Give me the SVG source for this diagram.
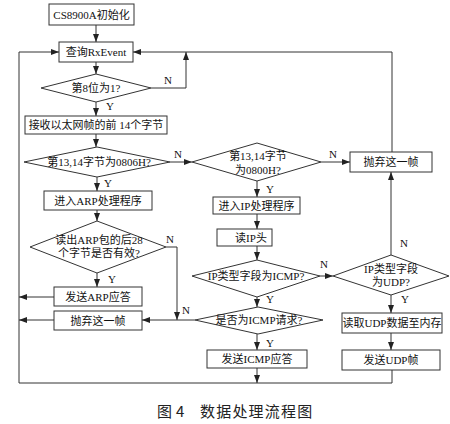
<svg xmlns="http://www.w3.org/2000/svg" width="450" height="424" viewBox="0 0 450 424">
<style>
.box{fill:#fff;stroke:#333;stroke-width:1}
.t{font-family:"Liberation Serif","Noto Sans CJK SC",serif;font-size:11px;fill:#111;text-anchor:middle}
.lb{font-family:"Liberation Serif",serif;font-size:11px;fill:#111}
.ln{fill:none;stroke:#333;stroke-width:1}
.ar{marker-end:url(#ah)}
.cap{font-family:"Noto Sans CJK SC",sans-serif;font-size:15px;fill:#222}
</style>
<defs>
<marker id="ah" markerUnits="userSpaceOnUse" markerWidth="8" markerHeight="6" refX="8" refY="3" orient="auto">
<path d="M0,0 L8,3 L0,6 z" fill="#222"/>
</marker>
</defs>
<rect width="450" height="424" fill="#fff"/>
<g id="connectors">
<path class="ln ar" d="M96,25 V42"/>
<path class="ln ar" d="M96,62 V74"/>
<path class="ln ar" d="M151,88 H186 V52"/>
<path class="ln ar" d="M392,152 V52 H133"/>
<path class="ln ar" d="M96,102 V116"/>
<path class="ln ar" d="M96,134 V147"/>
<path class="ln ar" d="M170,162 H192"/>
<path class="ln ar" d="M97,177 V191"/>
<path class="ln ar" d="M97,210 V221"/>
<path class="ln ar" d="M97,273 V287"/>
<path class="ln ar" d="M166,247 H177 V320"/>
<path class="ln ar" d="M54,297 H19"/>
<path class="ln ar" d="M54,320 H19"/>
<path class="ln ar" d="M195,320 H142"/>
<path class="ln ar" d="M392,370 V383 H19 V52 H59"/>
<path class="ln ar" d="M321,162 H350"/>
<path class="ln ar" d="M257,181 V197"/>
<path class="ln ar" d="M257,214 V229"/>
<path class="ln ar" d="M257,246 V260"/>
<path class="ln ar" d="M320,276 H333"/>
<path class="ln ar" d="M257,297 V307"/>
<path class="ln ar" d="M391,255 V172"/>
<path class="ln ar" d="M391,295 V313"/>
<path class="ln ar" d="M391,333 V350"/>
<path class="ln ar" d="M257,334 V350"/>
<path class="ln ar" d="M257,368 V383"/>
</g>
<g id="labels">
<text class="lb" x="164" y="84">N</text>
<text class="lb" x="106" y="110">Y</text>
<text class="lb" x="174" y="158">N</text>
<text class="lb" x="104" y="187">Y</text>
<text class="lb" x="329" y="158">N</text>
<text class="lb" x="266" y="193">Y</text>
<text class="lb" x="166" y="243">N</text>
<text class="lb" x="108" y="283">Y</text>
<text class="lb" x="182" y="314">N</text>
<text class="lb" x="320" y="268">N</text>
<text class="lb" x="400" y="247">N</text>
<text class="lb" x="266" y="303">Y</text>
<text class="lb" x="401" y="303">Y</text>
<text class="lb" x="266" y="347">Y</text>
</g>
<g id="n1"><rect class="box" x="49" y="4" width="85" height="21"/><text class="t" x="91.5" y="18.5">CS8900A初始化</text></g>
<g id="n2"><rect class="box" x="59" y="42" width="74" height="20"/><text class="t" x="96" y="56">查询RxEvent</text></g>
<g id="d1"><polygon class="box" points="41,88 96,74 151,88 96,102"/><text class="t" x="96" y="92">第8位为1?</text></g>
<g id="n3"><rect class="box" x="25" y="116" width="142" height="18"/><text class="t" x="96" y="129">接收以太网帧的前 14个字节</text></g>
<g id="d2"><polygon class="box" points="24,162 97,147 170,162 97,177"/><text class="t" x="99" y="166">第13,14字节为0806H?</text></g>
<g id="n4"><rect class="box" x="44" y="191" width="108" height="19"/><text class="t" x="98" y="204.5">进入ARP处理程序</text></g>
<g id="d3"><polygon class="box" points="30,247 97,221 166,247 97,273"/><text class="t" x="99" y="244">读出ARP包的后28</text><text class="t" x="99" y="257">个字节是否有效?</text></g>
<g id="n5"><rect class="box" x="54" y="287" width="88" height="19"/><text class="t" x="98" y="300.5">发送ARP应答</text></g>
<g id="n6"><rect class="box" x="54" y="311" width="88" height="19"/><text class="t" x="98" y="324.5">抛弃这一帧</text></g>
<g id="d4"><polygon class="box" points="192,162 257,143 321,162 257,181"/><text class="t" x="258" y="160">第13,14字节</text><text class="t" x="258" y="174">为0800H?</text></g>
<g id="n7"><rect class="box" x="350" y="152" width="82" height="20"/><text class="t" x="391" y="166">抛弃这一帧</text></g>
<g id="n8"><rect class="box" x="213" y="197" width="87" height="17"/><text class="t" x="256.5" y="209.5">进入IP处理程序</text></g>
<g id="n9"><rect class="box" x="217" y="229" width="55" height="17"/><text class="t" x="251" y="241.5">读IP头</text></g>
<g id="d5"><polygon class="box" points="192,276 257,260 320,276 257,297"/><text class="t" x="256" y="280">IP类型字段为ICMP?</text></g>
<g id="d6"><polygon class="box" points="333,276 391,255 449,276 391,295"/><text class="t" x="391" y="273">IP类型字段</text><text class="t" x="391" y="286">为UDP?</text></g>
<g id="d7"><polygon class="box" points="195,320 258,307 323,320 258,334"/><text class="t" x="259" y="324">是否为ICMP请求?</text></g>
<g id="n10"><rect class="box" x="207" y="350" width="100" height="18"/><text class="t" x="257" y="363">发送ICMP应答</text></g>
<g id="n11"><rect class="box" x="342" y="313" width="100" height="20"/><text class="t" x="392" y="327">读取UDP数据至内存</text></g>
<g id="n12"><rect class="box" x="342" y="350" width="98" height="20"/><text class="t" x="391" y="364">发送UDP帧</text></g>
<g id="caption">
<text class="cap" x="157" y="417">图 <tspan x="176">4</tspan></text>
<text class="cap" x="200" y="417" letter-spacing="1.2">数据处理流程图</text>
</g>
</svg>
